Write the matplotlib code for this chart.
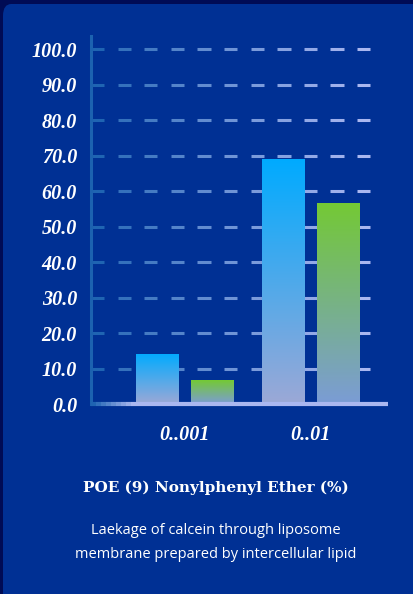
import matplotlib
matplotlib.use("Agg")
import matplotlib.pyplot as plt
from matplotlib.patches import FancyBboxPatch
from matplotlib.collections import LineCollection
from matplotlib.colors import LinearSegmentedColormap, to_rgb
import numpy as np

# data
categories = ["0..001", "0..01"]
series_a = [14.2, 69.0]   # blue bars
series_b = [6.7, 56.7]    # green bars
yticks = [0, 10, 20, 30, 40, 50, 60, 70, 80, 90, 100]
ytick_labels = [f"{v:.1f}" for v in yticks]

W, H = 414, 594
fig = plt.figure(figsize=(W / 100, H / 100), dpi=100)
fig.patch.set_facecolor("#000b55")

# rounded card
card = FancyBboxPatch((3 / W, -0.05), 1.2, 1 - 4 / H + 0.05,
                      boxstyle="round,pad=0,rounding_size=0.02",
                      transform=fig.transFigure, facecolor="#003094",
                      edgecolor="none", zorder=-5)
fig.patches.append(card)

ax = fig.add_axes([91 / W, 1 - 404 / H, (388 - 91) / W, (404 - 36) / H])
ax.set_facecolor("none")
ax.set_zorder(2)

x = np.arange(len(categories))
bw = 0.337
off = 0.218
bars_a = ax.bar(x - off, series_a, width=bw, color="none", zorder=3)
bars_b = ax.bar(x + off, series_b, width=bw, color="none", zorder=3)


def fill_gradient(bars, top, bottom):
    cmap = LinearSegmentedColormap.from_list("g", [bottom, top])
    grad = np.linspace(0, 1, 256).reshape(-1, 1)
    for b in bars:
        x0, y0 = b.get_x(), b.get_y()
        im = ax.imshow(grad, cmap=cmap, origin="lower", aspect="auto",
                       extent=[x0, x0 + b.get_width(), y0, y0 + b.get_height()],
                       zorder=3)
        im.set_clip_path(b)


fill_gradient(bars_a, "#00abff", "#9ca8d6")
fill_gradient(bars_b, "#74c934", "#7b9cd6")
ax.set_xlim(-0.742, 1.615)
ax.set_ylim(0, 103.7)

# dashed gradient gridlines (pixel spacing converted to data units)
px = (1.615 + 0.742) / (388 - 91)
c0 = np.array(to_rgb("#1f64b2"))
c1 = np.array(to_rgb("#aab7f0"))
n_dash = 11
for v in yticks[1:]:
    segs, cols = [], []
    for i in range(n_dash):
        xs = -0.742 + i * 26.6 * px
        segs.append([(xs, v), (xs + 13.3 * px, v)])
        cols.append(c0 + (c1 - c0) * (i / (n_dash - 1)) ** 0.8)
    ax.add_collection(LineCollection(segs, colors=cols, linewidths=2.2, zorder=2))

# x axis line with gradient
xa = np.linspace(-0.742, 1.615, 60)
segs = [[(xa[i], 0), (xa[i + 1], 0)] for i in range(len(xa) - 1)]
cols = [c0 + (c1 - c0) * min(1, (i / 8)) for i in range(len(segs))]
ax.add_collection(LineCollection(segs, colors=cols, linewidths=3, zorder=4,
                                 capstyle="butt", clip_on=False))

for s in ["top", "right", "bottom"]:
    ax.spines[s].set_visible(False)
ax.spines["left"].set_color("#1c62b0")
ax.spines["left"].set_linewidth(2.2)

ax.set_yticks(yticks)
ax.set_yticklabels(ytick_labels)
ax.set_xticks(x)
ax.set_xticklabels(categories)
ax.tick_params(axis="both", length=0, colors="white")
ax.tick_params(axis="y", pad=10)
ax.tick_params(axis="x", pad=15)
for lab in ax.get_yticklabels() + ax.get_xticklabels():
    lab.set_fontfamily("Liberation Serif")
    lab.set_fontstyle("italic")
    lab.set_fontweight("bold")
    lab.set_fontsize(14.5)
    lab.set_color("white")

fig.text(216 / W, 1 - 488 / H, "POE (9) Nonylphenyl Ether (%)",
         ha="center", va="center", color="white", fontsize=11,
         fontweight="bold", fontfamily="DejaVu Serif")
fig.text(216 / W, 1 - 530 / H, "Laekage of calcein through liposome",
         ha="center", va="center", color="white", fontsize=10.5,
         fontfamily="Open Sans")
fig.text(216 / W, 1 - 554 / H, "membrane prepared by intercellular lipid",
         ha="center", va="center", color="white", fontsize=10.5,
         fontfamily="Open Sans")

fig.savefig("out.png", dpi=100, facecolor=fig.get_facecolor())
